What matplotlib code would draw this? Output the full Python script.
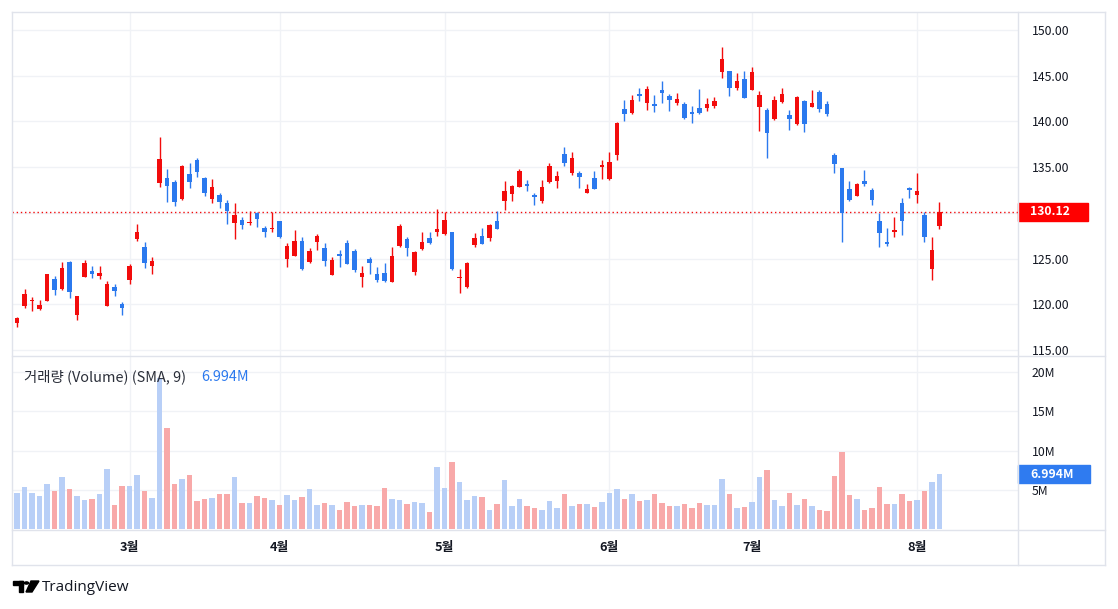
import numpy as np
import pandas as pd
import matplotlib
matplotlib.use('Agg')
import matplotlib.pyplot as plt
from matplotlib.patches import Rectangle, Polygon, Circle
from matplotlib.lines import Line2D
from matplotlib.transforms import blended_transform_factory

plt.rcParams['font.family'] = ['Noto Sans CJK KR', 'DejaVu Sans']

# trading days (US market, 2024)
holidays = ['2024-02-19', '2024-03-29', '2024-05-27', '2024-06-19', '2024-07-04']
dates = pd.bdate_range('2024-02-08', '2024-08-06')
dates = dates[~dates.isin(pd.to_datetime(holidays))]

opens = [118.00, 119.85, 120.32, 119.49, 120.40, 122.77, 121.67, 124.63, 118.83, 123.02,
         123.68, 123.13, 119.85, 121.93, 120.07, 122.66, 127.14, 126.30, 124.23, 133.30,
         133.78, 133.41, 131.48, 134.25, 135.78, 133.78, 131.48, 131.95, 131.04, 128.93,
         129.22, 128.89, 130.02, 128.38, 128.20, 129.07, 124.95, 125.32, 126.92, 124.59,
         126.85, 126.12, 123.24, 125.50, 126.74, 125.87, 123.02, 124.95, 123.28, 123.39,
         122.47, 126.38, 127.14, 123.57, 126.05, 127.21, 127.94, 127.69, 127.87, 122.84,
         121.93, 126.49, 127.47, 127.29, 129.15, 131.33, 132.06, 132.86, 133.12, 131.95,
         131.30, 133.34, 133.52, 136.44, 134.32, 134.40, 132.21, 133.78, 134.98, 133.67,
         136.33, 141.36, 140.96, 143.00, 142.05, 141.91, 143.44, 142.78, 142.05, 141.91,
         140.99, 141.43, 141.43, 141.72, 145.44, 145.52, 143.69, 144.64, 143.44, 141.61,
         141.25, 140.27, 142.16, 140.70, 139.72, 142.23, 141.61, 143.18, 141.91, 136.33,
         134.87, 132.57, 131.88, 133.48, 132.50, 129.11, 126.85, 127.94, 131.12, 132.76,
         131.95, 129.77, 123.82, 128.56]
highs = [118.65, 121.67, 120.83, 120.47, 123.35, 123.13, 124.63, 124.74, 120.95, 124.85,
         124.19, 124.19, 122.55, 122.18, 120.29, 124.41, 128.78, 126.78, 125.17, 138.33,
         134.80, 133.59, 135.20, 135.49, 135.96, 133.96, 133.70, 132.21, 131.41, 131.12,
         129.51, 130.20, 130.10, 128.56, 130.06, 129.10, 126.67, 128.13, 127.39, 126.19,
         127.65, 126.74, 125.21, 125.94, 127.03, 126.05, 124.19, 125.21, 124.04, 124.48,
         126.23, 128.78, 127.32, 125.87, 127.87, 127.94, 130.39, 130.06, 127.90, 123.82,
         124.65, 127.76, 128.31, 128.78, 130.20, 133.49, 133.05, 134.80, 133.59, 132.14,
         133.59, 135.49, 134.61, 137.24, 136.62, 134.61, 133.16, 134.61, 135.78, 136.62,
         139.97, 142.34, 142.89, 143.69, 143.91, 142.89, 144.42, 142.96, 143.15, 142.16,
         141.69, 143.51, 142.53, 142.63, 148.18, 145.55, 145.33, 145.52, 145.99, 143.37,
         141.51, 142.78, 143.62, 141.25, 142.75, 142.30, 143.44, 143.44, 142.23, 136.58,
         134.90, 133.48, 133.30, 134.69, 132.76, 130.02, 128.31, 129.51, 131.66, 132.87,
         134.32, 130.13, 127.40, 131.23]
lows = [117.55, 119.56, 119.30, 119.38, 120.35, 121.02, 121.56, 120.73, 118.28, 122.95,
        122.91, 122.80, 119.80, 120.94, 118.83, 122.22, 126.92, 124.01, 123.35, 132.86,
        131.15, 130.79, 131.40, 132.68, 133.89, 131.88, 131.12, 130.50, 128.78, 127.10,
        128.20, 128.67, 128.49, 127.32, 127.87, 127.21, 124.11, 125.25, 123.75, 124.48,
        125.94, 124.19, 123.20, 124.12, 124.35, 123.57, 121.86, 123.28, 122.47, 122.47,
        122.40, 126.23, 125.32, 123.20, 125.94, 126.59, 127.47, 127.58, 123.75, 121.27,
        121.75, 126.30, 126.55, 126.96, 128.20, 130.31, 131.33, 132.80, 132.39, 130.86,
        131.04, 133.30, 132.76, 135.13, 134.14, 132.76, 132.14, 132.57, 133.70, 133.60,
        135.78, 140.08, 140.81, 142.27, 141.25, 141.07, 141.98, 141.18, 141.80, 140.27,
        139.79, 140.81, 141.18, 141.51, 144.79, 142.82, 143.44, 142.55, 143.40, 138.95,
        136.04, 140.20, 141.98, 139.06, 139.61, 138.81, 141.55, 141.07, 140.59, 134.40,
        126.85, 131.30, 131.85, 132.94, 130.86, 126.30, 126.38, 127.40, 127.58, 131.66,
        131.04, 126.85, 122.66, 128.20]
closes = [118.47, 121.13, 120.47, 119.92, 123.31, 121.60, 124.01, 121.35, 120.91, 124.55,
          123.35, 123.42, 122.22, 121.45, 119.63, 124.19, 127.91, 124.55, 124.74, 135.89,
          132.97, 131.15, 135.13, 133.41, 134.51, 132.21, 132.79, 131.23, 130.20, 129.77,
          128.67, 129.04, 129.29, 127.94, 128.34, 127.39, 126.41, 126.92, 123.86, 125.83,
          127.51, 124.77, 124.84, 125.32, 124.41, 123.75, 123.39, 124.48, 122.66, 122.55,
          125.28, 128.56, 126.12, 125.76, 126.78, 126.74, 128.23, 129.22, 123.86, 123.02,
          124.55, 127.29, 126.60, 128.67, 128.24, 132.39, 132.94, 134.61, 132.97, 131.77,
          132.79, 135.13, 134.03, 135.49, 135.96, 133.96, 132.57, 132.61, 135.23, 135.53,
          139.86, 140.81, 142.34, 142.78, 143.55, 141.69, 143.15, 142.34, 142.42, 140.34,
          140.78, 140.88, 141.87, 142.23, 146.83, 143.62, 144.42, 142.60, 145.37, 142.89,
          138.77, 142.34, 143.00, 140.27, 142.71, 139.68, 142.05, 141.32, 140.78, 135.31,
          130.02, 131.41, 133.16, 133.16, 131.41, 127.76, 126.60, 128.09, 129.15, 132.50,
          132.39, 127.40, 125.94, 130.12]
# volume in millions
volumes = [4.63, 5.36, 4.63, 4.25, 5.74, 4.85, 6.63, 5.10, 4.25, 3.70,
           3.83, 4.46, 7.65, 3.06, 5.48, 5.48, 6.89, 4.85, 4.00, 19.20,
           12.93, 5.74, 6.38, 6.89, 3.57, 3.83, 4.00, 4.46, 4.46, 6.63,
           3.32, 3.32, 4.21, 4.00, 3.70, 3.06, 4.34, 3.70, 4.08, 5.10,
           3.06, 3.32, 3.06, 2.42, 3.44, 2.93, 3.06, 3.06, 2.93, 5.23,
           3.83, 3.70, 3.19, 3.44, 3.32, 2.17, 7.91, 5.23, 8.55, 6.00,
           3.70, 4.21, 4.08, 2.42, 3.19, 6.25, 2.93, 3.83, 2.93, 2.68,
           2.42, 3.57, 2.68, 4.46, 2.93, 3.19, 3.19, 2.81, 3.44, 4.59,
           5.10, 3.83, 4.46, 3.57, 3.70, 4.46, 3.32, 2.93, 2.93, 3.19,
           2.68, 3.32, 3.06, 3.06, 6.38, 4.46, 2.68, 2.81, 3.44, 6.63,
           7.53, 3.70, 2.93, 4.59, 3.06, 3.83, 2.93, 2.42, 2.30, 6.76,
           9.82, 4.34, 3.83, 2.42, 2.68, 5.36, 3.19, 3.19, 4.46, 3.57,
           3.70, 4.85, 6.00, 6.994]

price_ticks = [115, 120, 125, 130, 135, 140, 145, 150]
vol_ticks = [5, 10, 15, 20]
vol_tick_labels = ['5M', '10M', '15M', '20M']

up_color = '#f20c0c'
down_color = '#2b79ee'
vol_up = '#b8cff7'
vol_down = '#f8a9a9'
grid_c = '#f0f2f6'
border_c = '#e0e3eb'
text_c = '#131722'

o = np.array(opens)
h = np.array(highs)
l = np.array(lows)
c = np.array(closes)
v = np.array(volumes)
x = np.arange(len(dates))
up = c >= o

month_pos = [i for i in range(1, len(dates)) if dates[i].month != dates[i - 1].month]
month_labels = [f'{dates[i].month}월' for i in month_pos]

W, H = 1118, 609
fig = plt.figure(figsize=(W / 100, H / 100), dpi=100)


def fx(px):
    return px / W


def fy(py):
    return 1 - py / H


left, right, rborder = 12, 1018, 1105
top, sep, vbot, tbot = 12, 356, 529, 565

ax = fig.add_axes([fx(left), fy(sep), (right - left) / W, (sep - top) / H])
axv = fig.add_axes([fx(left), fy(vbot), (right - left) / W, (vbot - sep) / H], sharex=ax)

# price pane
cols = np.where(up, up_color, down_color)
ax.vlines(x, l, h, colors=cols, lw=1, zorder=3)
body = np.maximum(np.abs(c - o), 0.12)
ax.bar(x, body, bottom=np.minimum(o, c), width=0.66, color=cols, zorder=4, linewidth=0)
ax.axhline(c[-1], color=up_color, ls=(0, (1, 2)), lw=1, zorder=2)
ax.set_ylim(114.34, 151.97)
ax.set_xlim(-0.67, 133.47)
for t in price_ticks:
    ax.axhline(t, color=grid_c, lw=1, zorder=0)
for p in month_pos:
    ax.axvline(p, color=grid_c, lw=1, zorder=0)
ax.yaxis.tick_right()
# the last-price tag hides the scale label it covers
price_labels = ['' if abs(t - c[-1]) < 2 else f'{t:.2f}' for t in price_ticks]
ax.set_yticks(price_ticks, price_labels)
ax.tick_params(axis='y', length=0, pad=10, labelsize=8.8, labelcolor=text_c)
ax.tick_params(axis='x', length=0, labelbottom=False)
for s in ax.spines.values():
    s.set_visible(False)

# volume pane
vcols = np.where(up, vol_up, vol_down)
axv.bar(x, v, width=0.76, color=vcols, linewidth=0, zorder=3)
axv.set_ylim(0, 22.07)
for t in vol_ticks:
    axv.axhline(t, color=grid_c, lw=1, zorder=0)
for p in month_pos:
    axv.axvline(p, color=grid_c, lw=1, zorder=0)
axv.yaxis.tick_right()
axv.set_yticks(vol_ticks, vol_tick_labels)
axv.tick_params(axis='y', length=0, pad=10, labelsize=8.8, labelcolor=text_c)
axv.set_xticks(month_pos, month_labels)
axv.tick_params(axis='x', length=0, pad=9, labelsize=9.2, labelcolor=text_c)
for lab in axv.get_xticklabels():
    lab.set_fontweight('bold')
for s in axv.spines.values():
    s.set_visible(False)

axv.text(0.012, 0.88, '거래량 (Volume) (SMA, 9)', transform=axv.transAxes,
         fontsize=10.4, color='#2a2e39', va='center', ha='left', zorder=6)
axv.text(0.188, 0.88, f'{v[-1]:.3f}M', transform=axv.transAxes,
         fontsize=10.4, color=down_color, va='center', ha='left', zorder=6)

# last value tags on the scales
tr = blended_transform_factory(fig.transFigure, ax.transData)
half = 9 / 9.143
ax.add_patch(Rectangle((fx(right), c[-1] - half), 70 / W, 2 * half, transform=tr,
                       color='#ff0000', clip_on=False, zorder=10))
ax.text(fx(right + 12), c[-1], f'{c[-1]:.2f}', transform=tr, color='white',
        fontsize=8.8, fontweight='bold', va='center', ha='left', zorder=11, clip_on=False)
trv = blended_transform_factory(fig.transFigure, axv.transData)
halfv = 9 / 7.84
axv.add_patch(Rectangle((fx(right), v[-1] - halfv), 72 / W, 2 * halfv, transform=trv,
                        color='#2f7bf0', clip_on=False, zorder=10))
axv.text(fx(right + 12), v[-1], f'{v[-1]:.3f}M', transform=trv, color='white',
         fontsize=8.8, fontweight='bold', va='center', ha='left', zorder=11, clip_on=False)


# frame lines
def hline(py, x0, x1):
    fig.add_artist(Line2D([fx(x0), fx(x1)], [fy(py), fy(py)], color=border_c, lw=1))


def vline(px, y0, y1):
    fig.add_artist(Line2D([fx(px), fx(px)], [fy(y0), fy(y1)], color=border_c, lw=1))


hline(top, left, rborder)
hline(sep, left, rborder)
hline(vbot + 1, left, rborder)
hline(tbot, left, rborder)
vline(left, top, tbot)
vline(right, top, tbot)
vline(rborder, top, tbot)

# TradingView logo
fig.patches.append(Rectangle((fx(12.5), fy(584.5)), 10.5 / W, 3.5 / H, transform=fig.transFigure,
                             color='black'))
fig.patches.append(Rectangle((fx(18.5), fy(592)), 4.5 / W, 11 / H, transform=fig.transFigure,
                             color='black'))
fig.patches.append(Circle((fx(26.5), fy(583)), 2 / W, transform=fig.transFigure, color='black'))
fig.patches.append(Polygon([(fx(31), fy(581)), (fx(39), fy(581)), (fx(32), fy(592)),
                            (fx(26), fy(592))], closed=True, transform=fig.transFigure,
                           color='black'))
fig.text(fx(42), fy(587.5), 'TradingView', fontsize=11, color=text_c, va='center', ha='left',
         family=['Open Sans', 'DejaVu Sans'])

fig.savefig('out.png', dpi=100, facecolor='white')
